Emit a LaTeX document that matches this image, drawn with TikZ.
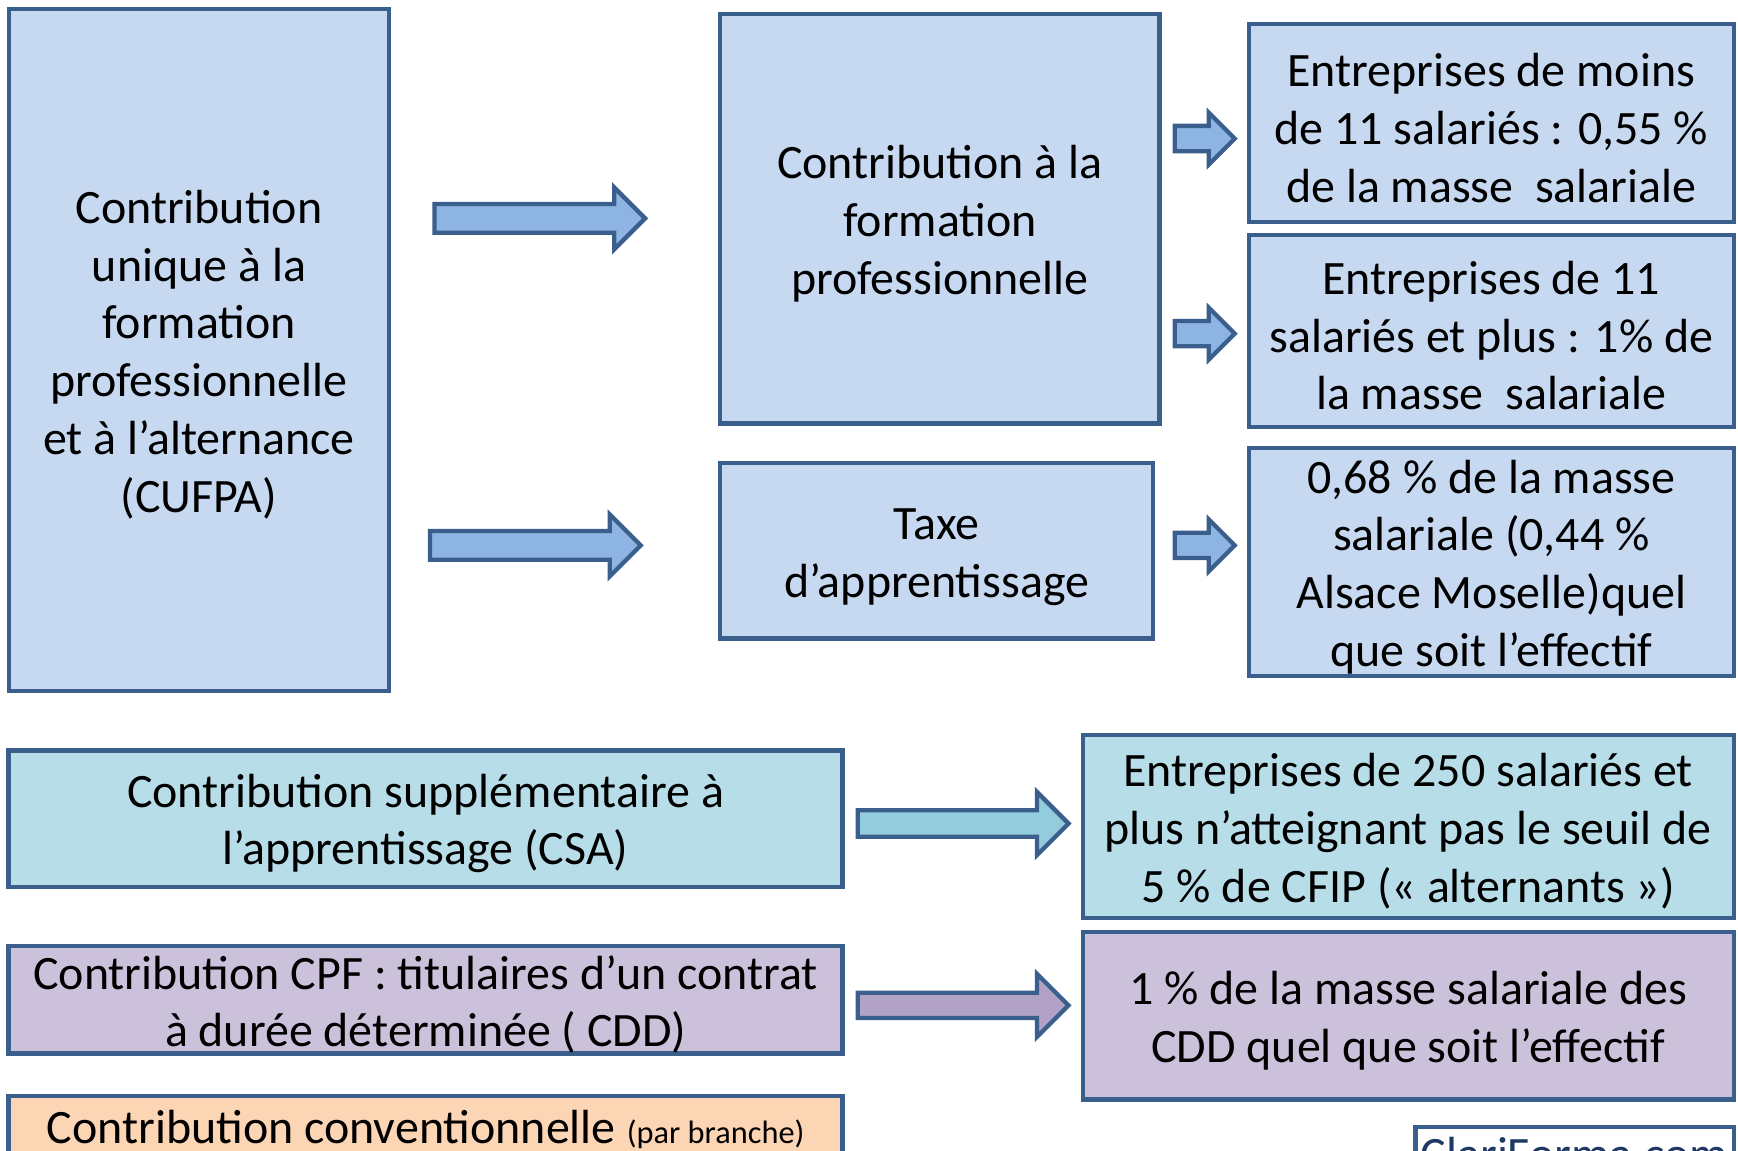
\documentclass[tikz,border=0pt]{standalone}
\usepackage{fontspec}
\setmainfont{Carlito}
\usetikzlibrary{shapes.arrows}

\definecolor{boxline}{HTML}{3A5F8C}
\definecolor{boxblue}{HTML}{C6D9F1}
\definecolor{arrowblue}{HTML}{8EB4E3}
\definecolor{boxcyan}{HTML}{B7DEE8}
\definecolor{arrowcyan}{HTML}{93CDDD}
\definecolor{boxlilac}{HTML}{CCC1DA}
\definecolor{arrowlilac}{HTML}{B3A2C7}
\definecolor{boxpeach}{HTML}{FCD5B5}
\definecolor{clarinavy}{HTML}{1F3864}

% pushes a multi-line text a little lower in its box
\newcommand{\lowtext}{\rule{0pt}{11pt}}

\begin{document}
\begin{tikzpicture}[x=0.01cm,
					y=-0.01cm,
					box/.style={rectangle,draw=boxline,line width=1.1pt,align=center,
						inner sep=0pt,font=\fontsize{12.3}{14.8}\selectfont},
					blue box/.style={box,fill=boxblue},
					cyan box/.style={box,fill=boxcyan},
					lilac box/.style={box,fill=boxlilac},
					big arrow/.style={single arrow,draw=boxline,line width=1.1pt,anchor=tail,
						minimum height=1.90cm,single arrow head extend=0.15cm,
						inner xsep=0pt,inner ysep=0.11cm,fill=arrowblue},
					small arrow/.style={big arrow,minimum height=0.54cm,
						single arrow head extend=0.12cm,inner ysep=0.095cm}]

  \useasboundingbox (0,0) rectangle (1568,1038);
  \clip (0,0) rectangle (1568,1038);

  % top part
  \node[blue box,minimum width=3.43cm,minimum height=6.15cm] (cufpa) at (179.5,315.5)
    {\lowtext Contribution\\unique à la\\formation\\professionnelle\\et à l’alternance\\(CUFPA)};
  \node[blue box,minimum width=3.96cm,minimum height=3.69cm] (cfp) at (848,197.5)
    {\lowtext Contribution à la\\formation\\professionnelle};
  \node[blue box,minimum width=3.90cm,minimum height=1.58cm] (taxe) at (845,497)
    {\lowtext Taxe\\d’apprentissage};
  \node[blue box,minimum width=4.37cm,minimum height=1.78cm] (moins) at (1345.5,111)
    {\lowtext Entreprises de moins\\de 11 salariés : 0,55 \%\\de la masse~~salariale};
  \node[blue box,minimum width=4.37cm,minimum height=1.73cm] (plus) at (1345.5,298.5)
    {\lowtext Entreprises de 11\\salariés et plus : 1\% de\\la masse~~salariale};
  \node[blue box,minimum width=4.37cm,minimum height=2.06cm] (masse) at (1345.5,507)
    {\lowtext 0,68 \% de la masse\\salariale (0,44 \%\\Alsace Moselle)quel\\que soit l’effectif};

  \node[big arrow] (a1) at (390,197) {};
  \node[big arrow] (a2) at (386,492) {};
  \node[small arrow] (s1) at (1058,125) {};
  \node[small arrow] (s2) at (1058,301) {};
  \node[small arrow] (s3) at (1058,492) {};

  % bottom part
  \node[cyan box,minimum width=7.52cm,minimum height=1.23cm] (csa) at (384,738.5)
    {\lowtext Contribution supplémentaire à\\l’apprentissage (CSA)};
  \node[cyan box,minimum width=5.87cm,minimum height=1.65cm] (seuil) at (1270.5,745.5)
    {\lowtext Entreprises de 250 salariés et\\plus n’atteignant pas le seuil de\\5 \% de CFIP (« alternants »)};
  \node[lilac box,minimum width=7.52cm,minimum height=0.96cm] (cpf) at (384,902)
    {\lowtext Contribution CPF : titulaires d’un contrat\\à durée déterminée ( CDD)};
  \node[lilac box,minimum width=5.87cm,minimum height=1.51cm] (cdd) at (1270.5,916.5)
    {\lowtext 1 \% de la masse salariale des\\CDD quel que soit l’effectif};
  \node[box,fill=boxpeach,minimum width=7.52cm,minimum height=0.60cm] (conv) at (384,1019)
    {Contribution conventionnelle {\fontsize{8.3}{10}\selectfont(par branche)}};
  \node[box,fill=white,text=clarinavy,minimum width=2.87cm,minimum height=0.48cm] (clari) at (1420.5,1041)
    {ClariForma.com};

  \node[big arrow,fill=arrowcyan,inner ysep=0.10cm,single arrow head extend=0.165cm] (a3) at (772,743) {};
  \node[big arrow,fill=arrowlilac,inner ysep=0.095cm,single arrow head extend=0.17cm] (a4) at (772,907) {};
\end{tikzpicture}
\end{document}
